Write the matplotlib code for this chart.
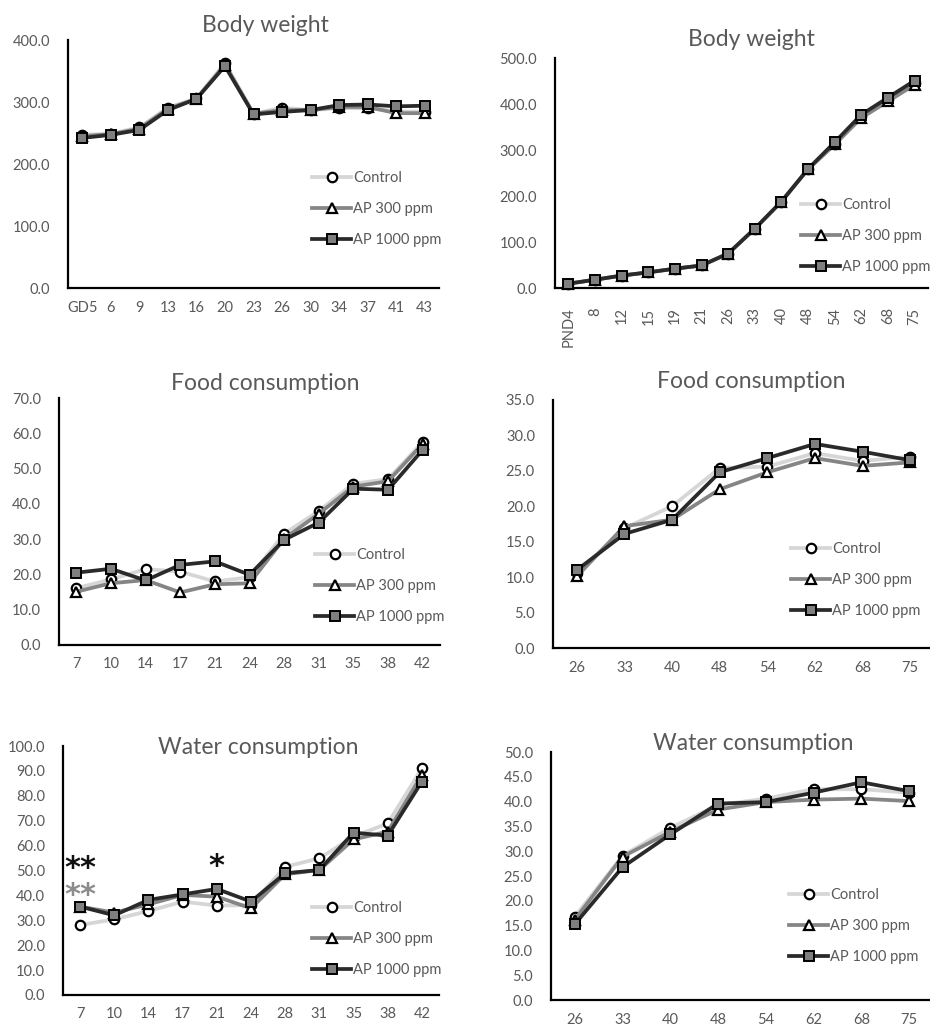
import matplotlib
matplotlib.use("Agg")
import matplotlib.pyplot as plt

plt.rcParams['font.family'] = ['Lato', 'DejaVu Sans']

W, H = 930, 1030

# ---------------- data ----------------
gest_days = ["GD5", "6", "9", "13", "16", "20", "23", "26", "30", "34", "37", "41", "43"]
gest_bw_control = [247, 249, 259, 291, 306, 363, 281, 291, 287, 290, 290, 285, 284]
gest_bw_ap300 = [245, 248, 257, 289, 305, 360, 281, 287, 287, 292, 292, 282, 282]
gest_bw_ap1000 = [242, 247, 255, 287, 305, 358, 280, 284, 287, 295, 296, 293, 294]

pnd_days = ["PND4", "8", "12", "15", "19", "21", "26", "33", "40", "48", "54", "62", "68", "75"]
pnd_bw_control = [9.5, 18, 27, 34, 42, 49, 75, 129, 188, 259, 314, 373, 410, 446]
pnd_bw_ap300 = [9.4, 18, 27, 34, 42, 49, 75, 129, 188, 258, 312, 370, 406, 442]
pnd_bw_ap1000 = [9.4, 18, 27, 34, 42, 49, 75, 129, 188, 259, 317, 377, 414, 451]

dam_days = ["7", "10", "14", "17", "21", "24", "28", "31", "35", "38", "42"]
dam_food_control = [16.1, 18.6, 21.5, 20.8, 18.0, 19.2, 31.5, 38.0, 45.7, 47.0, 57.5]
dam_food_ap300 = [15.1, 17.5, 18.4, 14.9, 17.2, 17.5, 30.1, 37.2, 44.9, 46.4, 57.0]
dam_food_ap1000 = [20.5, 21.6, 18.3, 22.7, 23.7, 19.9, 29.8, 34.7, 44.3, 44.0, 55.3]

dam_water_control = [28.1, 30.4, 33.7, 37.5, 35.9, 36.1, 51.5, 54.9, 63.6, 68.9, 91.0]
dam_water_ap300 = [35.5, 33.1, 36.4, 40.2, 39.5, 34.8, 48.5, 50.2, 62.5, 65.6, 88.4]
dam_water_ap1000 = [35.5, 32.0, 38.2, 40.4, 42.6, 37.5, 48.9, 50.2, 65.2, 64.0, 85.7]

off_days = ["26", "33", "40", "48", "54", "62", "68", "75"]
off_food_control = [10.6, 16.9, 20.0, 25.4, 25.6, 27.5, 26.4, 27.0]
off_food_ap300 = [10.1, 17.2, 18.1, 22.4, 24.8, 26.8, 25.7, 26.2]
off_food_ap1000 = [11.0, 16.1, 18.1, 24.8, 26.8, 28.8, 27.7, 26.5]

off_water_control = [16.8, 29.1, 34.7, 39.3, 40.6, 42.5, 42.5, 41.8]
off_water_ap300 = [16.2, 28.9, 33.9, 38.4, 39.9, 40.4, 40.6, 40.1]
off_water_ap1000 = [15.3, 26.8, 33.4, 39.6, 39.9, 41.8, 43.9, 42.1]

group_labels = ["Control", "AP 300 ppm", "AP 1000 ppm"]

# significance marks on dam water consumption: (day index, height, text, colour)
water_sig_marks = [(0, 51, "**", "#111111"), (0, 39.8, "**", "#8c8c8c"), (4, 51.5, "*", "#111111")]

# ---------------- styles ----------------
STYLES = [
    dict(color="#d6d6d6", marker="o", mfc="white", mec="black", lw=2.7, ms=6.8, mew=1.6),
    dict(color="#858585", marker="^", mfc="white", mec="black", lw=2.7, ms=6.8, mew=1.6),
    dict(color="#2a2a2a", marker="s", mfc="#7f7f7f", mec="black", lw=2.7, ms=6.8, mew=1.4),
]
TXT = "#595959"

fig = plt.figure(figsize=(W / 100, H / 100), dpi=100)


def add_axes_px(left, top, right, bottom):
    return fig.add_axes([left / W, 1 - bottom / H, (right - left) / W, (bottom - top) / H])


def panel(rect, cats, series, ymax, ystep, title, title_xy, legend_xy, rotate=False):
    left, top, right, bottom = rect
    ax = add_axes_px(left, top, right, bottom)
    x = list(range(len(cats)))
    for vals, lab, st in zip(series, group_labels, STYLES):
        ax.plot(x, vals, label=lab, clip_on=False, zorder=3, **st)
    ax.set_xlim(-0.5, len(cats) - 0.5)
    ax.set_ylim(0, ymax)
    ticks = [i * ystep for i in range(int(round(ymax / ystep)) + 1)]
    ax.set_yticks(ticks)
    ax.set_yticklabels([f"{t:.1f}" for t in ticks])
    ax.set_xticks(x)
    ax.set_xticklabels(cats, rotation=90 if rotate else 0)
    ax.tick_params(length=0, labelsize=10.5, labelcolor=TXT)
    ax.tick_params(axis="y", pad=13)
    ax.tick_params(axis="x", pad=14 if rotate else 9)
    for s in ("top", "right"):
        ax.spines[s].set_visible(False)
    for s in ("left", "bottom"):
        ax.spines[s].set_linewidth(1.6)
        ax.spines[s].set_color("black")
    ax.patch.set_alpha(0)
    fig.text(title_xy[0] / W, 1 - title_xy[1] / H, title, ha="center", va="center",
             fontsize=16.5, color=TXT)
    lx, ly = legend_xy
    ax.legend(loc="upper left",
              bbox_to_anchor=((lx - left) / (right - left), (bottom - ly) / (bottom - top)),
              frameon=False, fontsize=10.5, labelcolor=TXT, handlelength=2.7,
              handletextpad=0.1, labelspacing=1.17, borderpad=0, borderaxespad=0)
    return ax


panel((68, 40, 439, 288), gest_days, [gest_bw_control, gest_bw_ap300, gest_bw_ap1000],
      400, 100, "Body weight", (265, 25), (312, 171))
panel((555, 58, 928, 288), pnd_days, [pnd_bw_control, pnd_bw_ap300, pnd_bw_ap1000],
      500, 100, "Body weight", (751, 40), (801, 198), rotate=True)
panel((59, 398, 440, 645), dam_days, [dam_food_control, dam_food_ap300, dam_food_ap1000],
      70, 10, "Food consumption", (265, 384), (315, 548))
panel((553, 400, 934, 648), off_days, [off_food_control, off_food_ap300, off_food_ap1000],
      35, 5, "Food consumption", (751, 382), (791, 542))
axw = panel((63, 746, 439, 995), dam_days, [dam_water_control, dam_water_ap300, dam_water_ap1000],
            100, 10, "Water consumption", (258, 747), (312, 901))
panel((551, 752, 933, 1000), off_days, [off_water_control, off_water_ap300, off_water_ap1000],
      50, 5, "Water consumption", (753, 743), (789, 888))

for idx, yv, txt, col in water_sig_marks:
    axw.text(idx, yv, txt, ha="center", va="center", fontsize=22, fontweight="bold",
             color=col, family="DejaVu Sans")

fig.savefig("out.png", dpi=100, facecolor="white")
